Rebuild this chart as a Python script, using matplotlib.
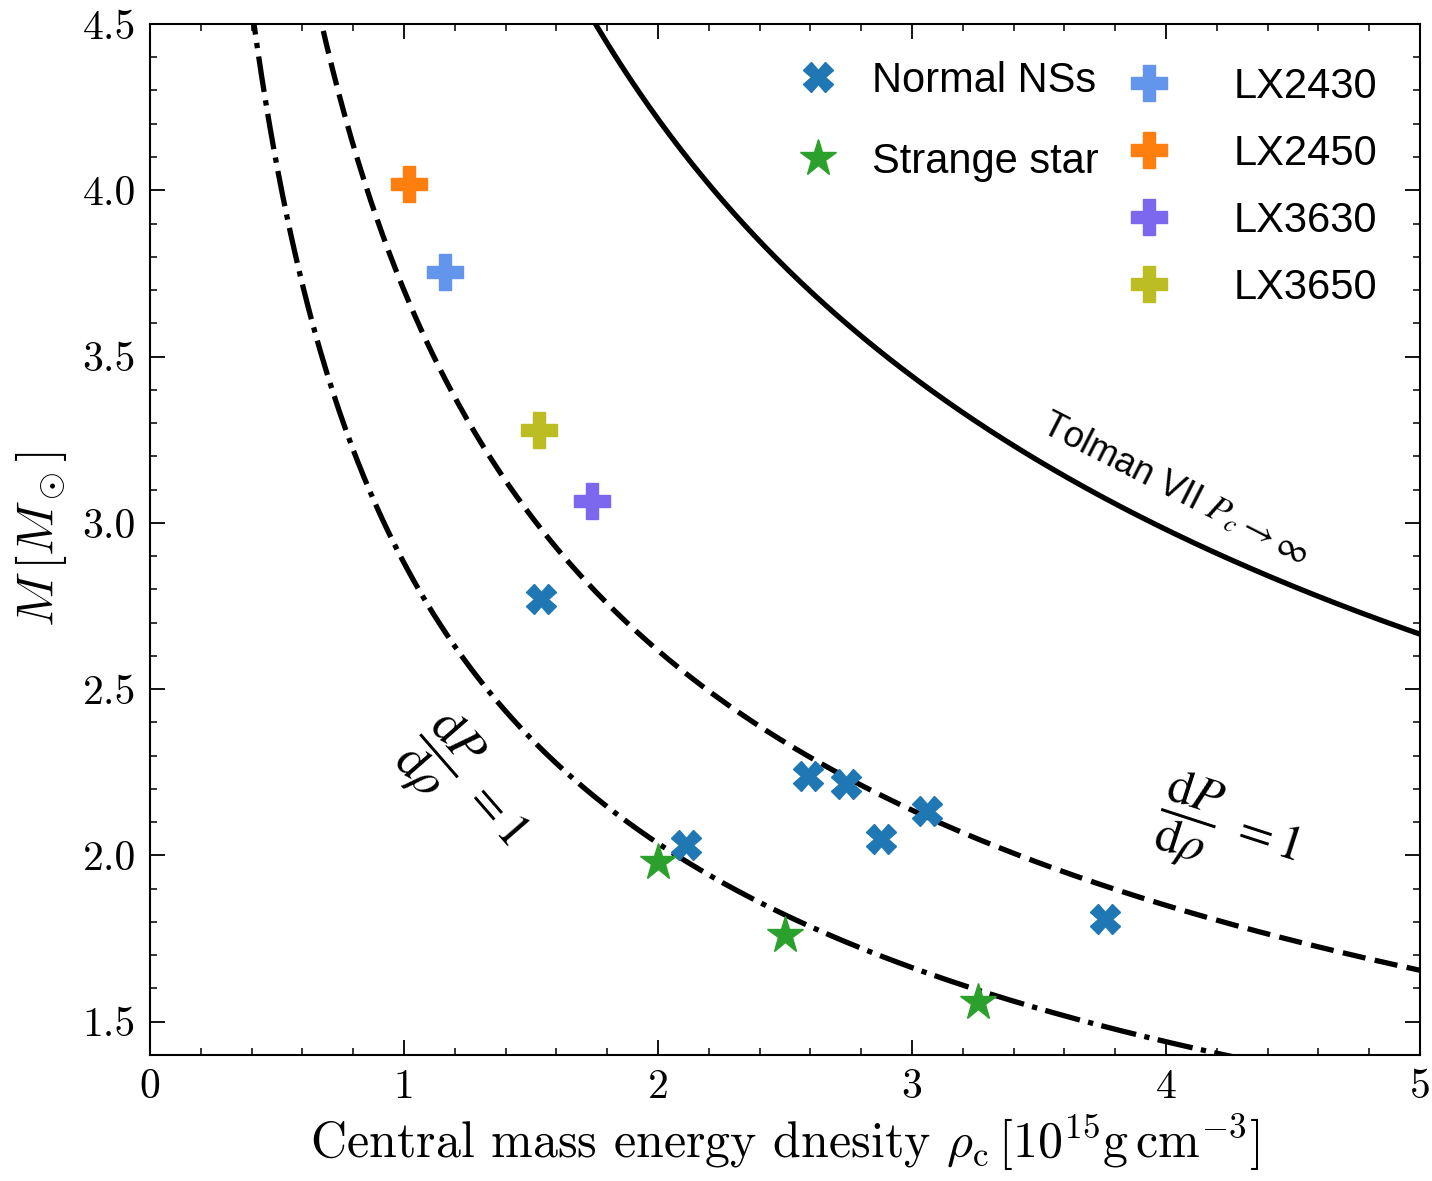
import numpy as np
import matplotlib
matplotlib.use("Agg")
import matplotlib.pyplot as plt

plt.rcParams["font.family"] = "serif"
plt.rcParams["font.serif"] = ["cmr10", "DejaVu Serif"]
plt.rcParams["mathtext.fontset"] = "cm"
plt.rcParams["axes.formatter.use_mathtext"] = True

# data points
ns_rho = [1.54, 2.11, 2.59, 2.74, 2.88, 3.06, 3.76]
ns_m = [2.77, 2.03, 2.24, 2.215, 2.05, 2.135, 1.81]
ss_rho = [2.00, 2.50, 3.26]
ss_m = [1.98, 1.76, 1.56]
lx_names = ["LX2430", "LX2450", "LX3630", "LX3650"]
lx_rho = [1.16, 1.02, 1.74, 1.53]
lx_m = [3.755, 4.02, 3.065, 3.28]
lx_colors = ["#6495ED", "#ff7f0e", "#7B68EE", "#bcbd22"]

# M = k / sqrt(rho_c) for the three bounding curves
k_tolman = 5.96
k_dash = 3.70
k_dashdot = 2.88

rho = np.linspace(0.05, 5, 600)

fig = plt.figure(figsize=(14.32, 11.81), dpi=100)
ax = fig.add_axes([0.1047, 0.1067, 0.8869, 0.8730])

ax.plot(rho, k_tolman / np.sqrt(rho), color="black", lw=3.8)
ax.plot(rho, k_dash / np.sqrt(rho), color="black", lw=3.8, ls=(0, (4.4, 1.8)))
ax.plot(rho, k_dashdot / np.sqrt(rho), color="black", lw=3.8, ls=(0, (6.8, 1.6, 1, 1.6)))

h_ns, = ax.plot(ns_rho, ns_m, ls="none", marker="X", ms=21, color="#1f77b4",
                label="Normal NSs", zorder=5)
h_ss, = ax.plot(ss_rho, ss_m, ls="none", marker="*", ms=28, color="#2ca02c",
                label="Strange star", zorder=5)
lx_handles = []
for name, r, m, c in zip(lx_names, lx_rho, lx_m, lx_colors):
    h, = ax.plot([r], [m], ls="none", marker="P", ms=26, color=c, label=name, zorder=5)
    lx_handles.append(h)

ax.set_xlim(0, 5)
ax.set_ylim(1.4, 4.5)
ax.set_xticks([0, 1, 2, 3, 4, 5])
ax.set_xticklabels(["0", "1", "2", "3", "4", "5"])
ax.set_yticks([1.5, 2.0, 2.5, 3.0, 3.5, 4.0, 4.5])
ax.set_yticklabels(["1.5", "2.0", "2.5", "3.0", "3.5", "4.0", "4.5"])
ax.set_xticks(np.arange(0, 5.01, 0.2), minor=True)
ax.set_yticks(np.arange(1.4, 4.51, 0.1), minor=True)
ax.tick_params(which="both", direction="in", top=True, right=True, labelsize=30, pad=10)
ax.tick_params(which="major", length=11, width=1.3)
ax.tick_params(which="minor", length=5, width=1.1)
for s in ax.spines.values():
    s.set_linewidth(1.5)

ax.set_xlabel(r"Central mass energy dnesity $\rho_{\rm c}\,[10^{15}{\rm g\,cm^{-3}}]$",
              fontsize=36, labelpad=4)
ax.set_ylabel(r"$M\,[M_\odot]$", fontsize=37, labelpad=10)

ax.text(4.035, 3.10, r"Tolman VII $P_c \to \infty$", fontsize=26,
        family="Liberation Sans", math_fontfamily="stix", rotation=-27,
        ha="center", va="center", rotation_mode="anchor")
ax.text(4.244, 2.065, r"$\dfrac{\mathrm{d}P}{\mathrm{d}\rho}\ = \mathit{1}$", fontsize=36,
        math_fontfamily="stix", rotation=-18, ha="center", va="center",
        rotation_mode="anchor")
ax.text(1.24, 2.20, r"$\dfrac{\mathrm{d}P}{\mathrm{d}\rho}\ = \mathit{1}$", fontsize=36,
        math_fontfamily="stix", rotation=-49, ha="center", va="center",
        rotation_mode="anchor")

leg1 = ax.legend(handles=[h_ns, h_ss], loc="upper left", bbox_to_anchor=(0.510, 0.9645),
                 frameon=False, prop={"family": "Liberation Sans", "size": 30},
                 handlelength=1.0, handletextpad=0.79, labelspacing=0.99,
                 borderpad=0, borderaxespad=0)
ax.add_artist(leg1)
ax.legend(handles=lx_handles, loc="upper left", bbox_to_anchor=(0.770, 0.9587),
          frameon=False, prop={"family": "Liberation Sans", "size": 30},
          handlelength=1.0, handletextpad=1.55, labelspacing=0.65,
          borderpad=0, borderaxespad=0)

fig.savefig("out.png", dpi=100)
